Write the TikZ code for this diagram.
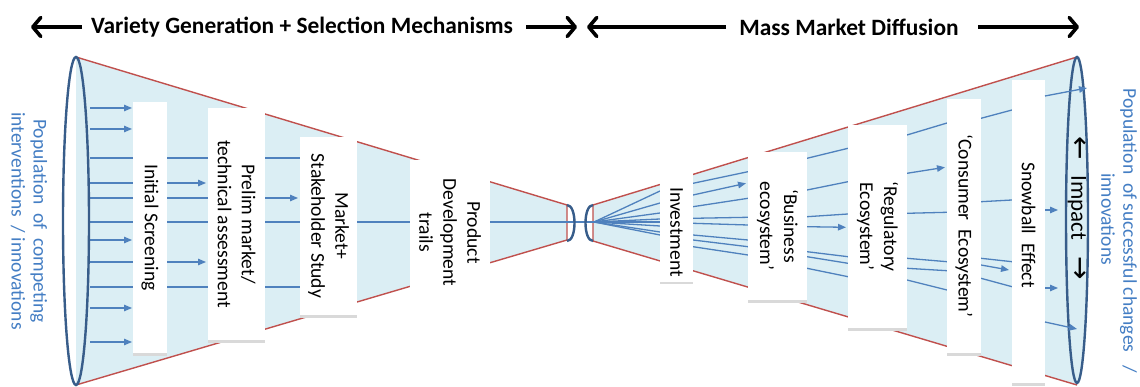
\documentclass[tikz,border=0pt]{standalone}
\usepackage{fontspec}
\setmainfont{Carlito}
\newfontfamily\dejavu{DejaVu Sans}
\usetikzlibrary{arrows.meta,shadows}
\definecolor{funnelfill}{RGB}{219,238,244}
\definecolor{edgered}{RGB}{192,80,77}
\definecolor{rayblue}{RGB}{79,129,189}
\definecolor{ellblue}{RGB}{56,93,138}
\definecolor{poptext}{RGB}{68,126,196}
\newcommand\stagefont{\fontsize{19.6}{24}\selectfont}
\begin{document}
\begin{tikzpicture}[x=1pt,y=-1pt,
  funnel/.style={fill=funnelfill},
  rededge/.style={draw=edgered,line width=1.4pt,line join=round},
  ray/.style={draw=rayblue,line width=1.3pt},
  rayarr/.style={ray,-{Triangle[length=8pt,width=6.5pt]}},
  ring/.style={draw=ellblue,line width=2.4pt},
  plainbox/.style={fill=white,rotate=-90,inner sep=0pt,align=center,font=\stagefont},
  stagebox/.style={plainbox,
    general shadow={fill=black!15,shadow xshift=0pt,shadow yshift=-2.5pt}},
  poplabel/.style={rotate=-90,inner sep=0pt,align=center,text=poptext,
    font=\fontsize{19.5}{22}\selectfont},
  title/.style={inner sep=0pt,font=\fontsize{23.4}{26}\selectfont\bfseries},
  bigarrow/.style={line width=3.6pt,-{Straight Barb[length=8pt,width=19pt,round]}},
  impact/.style={rotate=-90,inner sep=0pt,font=\fontsize{23}{26}\selectfont}]
\clip (0,0) rectangle (1140,387);
\fill[white] (0,0) rectangle (1140,387);

% titles
\node[title] (t1) at (302,27) {Variety Generation + Selection Mechanisms};
\node[title] (t2) at (849,27) {Mass Market Diffusion};
\coordinate (a1s) at (82,27);  \coordinate (a1e) at (31,27);
\coordinate (a2s) at (526,27); \coordinate (a2e) at (577,27);
\coordinate (a3s) at (726,27); \coordinate (a3e) at (587,27);
\coordinate (a4s) at (978,27); \coordinate (a4e) at (1079,27);
\draw[bigarrow] (a1s) -- (a1e);
\draw[bigarrow] (a2s) -- (a2e);
\draw[bigarrow] (a3s) -- (a3e);
\draw[bigarrow] (a4s) -- (a4e);

% funnels
\fill[funnel] (76,57) -- (567,205) -- (567,240) -- (76,385) -- cycle;
\fill[funnel] (1077,57) -- (593,205) -- (593,241) -- (1077,385) -- cycle;
\draw[rededge] (76,57) -- (567,205) -- (567,240) -- (76,385);
\draw[rededge] (1077,57) -- (593,205) -- (593,241) -- (1077,385);

% left rays
\draw[rayarr] (90,108) -- (132,108);
\draw[rayarr] (90,129) -- (132,129);
\draw[ray] (90,158) -- (300,158);
\draw[rayarr] (90,183) -- (206,183);
\draw[rayarr] (90,198) -- (298,198);
\draw[ray] (90,222) -- (660,222);
\draw[rayarr] (90,240) -- (132,240);
\draw[rayarr] (90,262) -- (206,262);
\draw[ray] (90,287) -- (300,287);
\draw[rayarr] (90,308) -- (132,308);
\draw[rayarr] (90,342) -- (132,342);

% small ellipses
\draw[ring] (567,205) .. controls (577,205) and (577,241) .. (567,241);
\draw[ring] (593,205) .. controls (583,205) and (583,241) .. (593,241);

% right rays, gap 0
\foreach \yy in {191,203,213,219,226,232,235}
  \draw[ray] (594,222) -- (660,\yy);
% gap 1
\draw[ray] (693,183.3) -- (748,171.7);
\draw[rayarr] (693,195) -- (746,183.3);
\draw[ray] (693,206.7) -- (748,198.3);
\draw[ray] (693,218.3) -- (748,217.3);
\draw[ray] (693,223.3) -- (748,225);
\draw[ray] (693,235) -- (748,240);
\draw[ray] (693,240) -- (748,246.7);
\draw[ray] (693,246.7) -- (748,255);
% gap 2
\draw[ray] (807,158.3) -- (848,148.3);
\draw[ray] (807,190) -- (848,181.7);
\draw[ray] (807,216.7) -- (848,214);
\draw[rayarr] (807,226.7) -- (846,227.3);
\draw[ray] (807,251.7) -- (848,256.7);
\draw[ray] (807,256.7) -- (848,263.3);
\draw[ray] (807,268.3) -- (848,276.7);
% gap 3
\draw[ray] (907,135) -- (947,123);
\draw[rayarr] (907,173.3) -- (945,167.3);
\draw[ray] (907,213.3) -- (947,212.3);
\draw[ray] (907,258.3) -- (947,261.7);
\draw[ray] (907,268.3) -- (947,270.7);
\draw[ray] (907,280) -- (947,290);
% gap 4
\draw[ray] (981,118.3) -- (1012,110);
\draw[ray] (981,201.7) -- (1012,200);
\draw[ray] (981,258.3) -- (1012,261.7);
\draw[rayarr] (981,265) -- (1009,270);
\draw[ray] (981,278.3) -- (1012,286.7);

% stage boxes
\node[stagebox,minimum width=251pt,minimum height=34pt] (b1) at (150,227.5) {Initial Screening};
\node[stagebox,minimum width=232pt,minimum height=57pt] (b2) at (236.5,224) {Prelim market/\\technical assessment};
\node[stagebox,minimum width=178pt,minimum height=57pt] (b3) at (328.5,226) {Market+\\Stakeholder Study};
\node[plainbox,minimum width=145pt,minimum height=80pt] (b4) at (450,232.5) {Product\\Development\\trails};
\node[stagebox,minimum width=114pt,minimum height=33pt] (b5) at (676.5,225) {\hspace*{14pt}Investment};
\node[stagebox,minimum width=148pt,minimum height=59pt] (b6) at (777.5,226) {‘Business\\ecosystem’};
\node[stagebox,minimum width=203pt,minimum height=59pt] (b7) at (877.5,226.5) {‘Regulatory\\Ecosystem’};
\node[stagebox,minimum width=254pt,minimum height=34pt] (b8) at (964,226) {‘Consumer\ \ Ecosystem’};
\node[stagebox,minimum width=303pt,minimum height=33pt] (b9) at (1028.5,231.5) {Snowball\ \ Effect\hspace*{13pt}};

% big ellipses
\draw[ring] (76,221) ellipse [x radius=13pt, y radius=164pt];
\draw[ring,fill=funnelfill] (1077,220) ellipse [x radius=11pt, y radius=163pt];

% gap 5 (into the outcome ellipse)
\draw[rayarr] (1045,96) -- (1087,88);
\draw[rayarr] (1045,210) -- (1058,210);
\draw[rayarr] (1045,288) -- (1058,288);
\draw[rayarr] (1045,322) -- (1077,329);

\node[impact] (imp) at (1077,208) {{\dejavu\fontsize{28}{28}\selectfont ←}\hspace{16pt}Impact\hspace{16pt}{\dejavu\fontsize{28}{28}\selectfont →}};

% population labels
\node[poplabel] (popL) at (29,221) {Population\ \ of\ \ competing\\interventions\ \ / innovations};
\node[poplabel] (popR) at (1119,231) {Population\ \ of successful changes\ \ \ /\\innovations\hspace*{24pt}};
\end{tikzpicture}
\end{document}
